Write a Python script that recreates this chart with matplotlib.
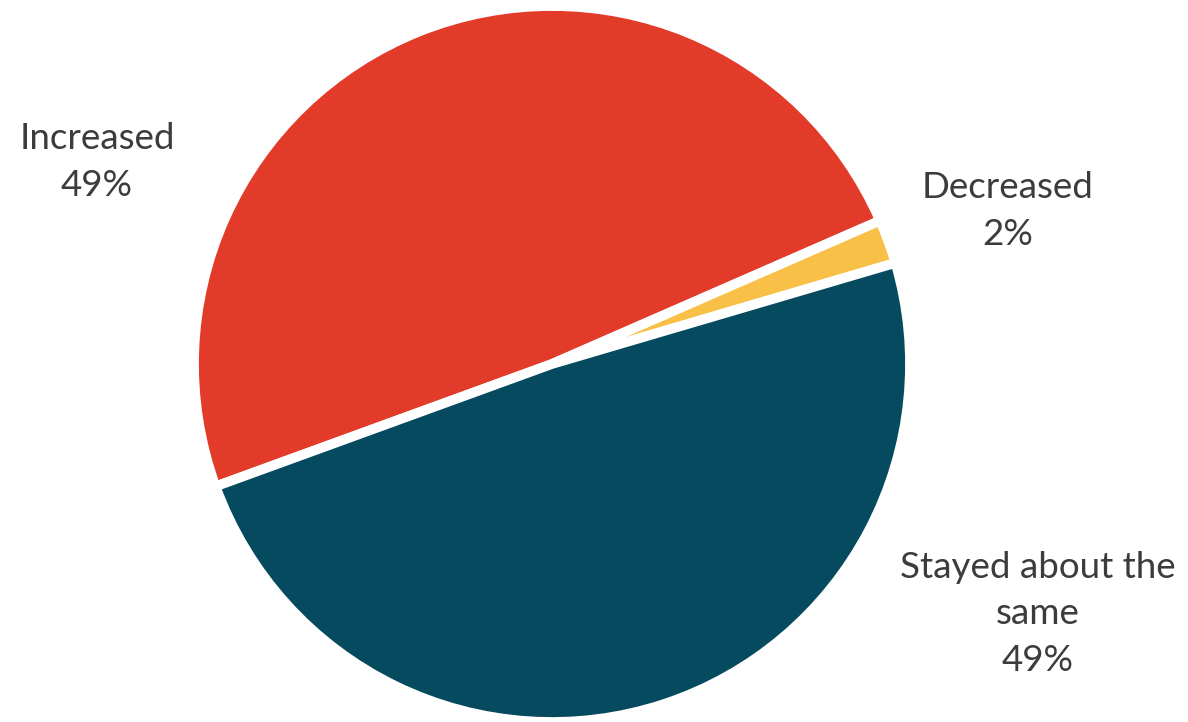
import matplotlib.pyplot as plt

# datos
categorias = ["Increased", "Decreased", "Stayed about the\nsame"]
valores = [49, 2, 49]
colores = ["#E23B2A", "#F9C048", "#064A5F"]

W, H = 1188, 722
fig = plt.figure(figsize=(W / 100, H / 100), dpi=100)

# centro y radio del pastel en pixeles
cx, cy, r = 552, 364, 358
ax = fig.add_axes([(cx - r) / W, (H - cy - r) / H, 2 * r / W, 2 * r / H])

ax.pie(
    valores,
    colors=colores,
    startangle=200,
    counterclock=False,
    radius=1.0,
    wedgeprops=dict(edgecolor="white", linewidth=7, joinstyle="miter"),
)
ax.set_xlim(-1, 1)
ax.set_ylim(-1, 1)
ax.set_aspect("auto")
ax.axis("off")

# etiquetas
posiciones = [(97, 162), (1008, 211), (1038, 614)]
for cat, val, (px, py) in zip(categorias, valores, posiciones):
    fig.text(px / W, 1 - py / H, f"{cat}\n{val}%",
             ha="center", va="center", fontsize=26.5, family="Lato",
             fontweight="normal", color="#3c3c3c", linespacing=1.5)

fig.savefig("out.png", dpi=100, facecolor="white")
